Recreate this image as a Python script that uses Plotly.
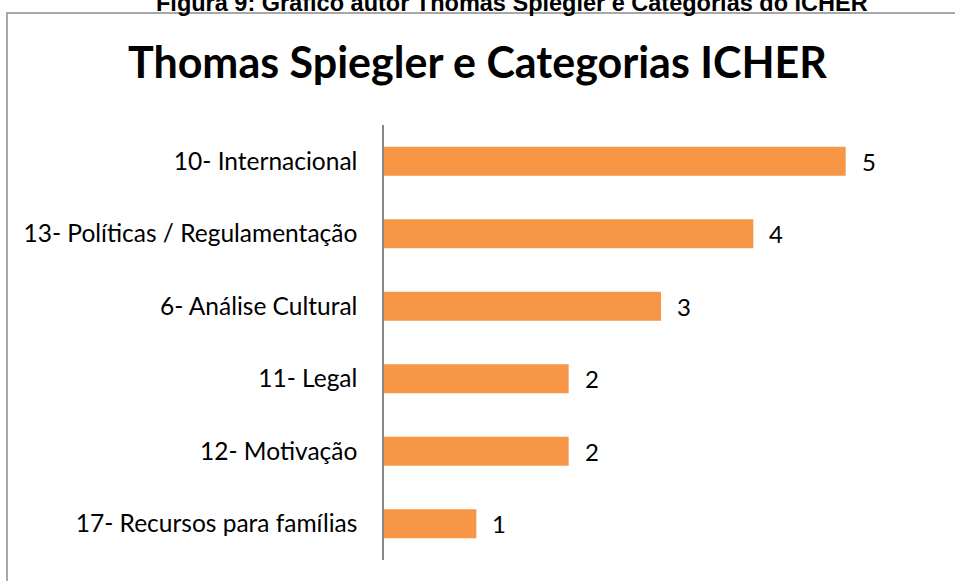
import plotly.graph_objects as go

categories = [
    "10- Internacional",
    "13- Políticas / Regulamentação",
    "6- Análise Cultural",
    "11- Legal",
    "12- Motivação",
    "17- Recursos para famílias",
]
values = [5, 4, 3, 2, 2, 1]

title_text = "Thomas Spiegler e Categorias ICHER"
caption_text = "Figura 9: Gráfico autor Thomas Spiegler e Categorias do ICHER"

BAR_COLOR = "#F79646"
FONT = "Lato"

fig = go.Figure()
fig.add_trace(go.Bar(
    x=values,
    y=categories,
    orientation="h",
    marker=dict(color=BAR_COLOR, line=dict(width=0)),
    hoverinfo="x+y",
))

for v, c in zip(values, categories):
    fig.add_annotation(
        x=v, y=c, xref="x", yref="y",
        text=str(v), showarrow=False,
        xanchor="left", yanchor="middle", xshift=14,
        font=dict(family=FONT, size=24, color="#000000"),
    )

# caption (partially cut off at the top of the page, as in the reference)
fig.add_annotation(
    x=0.231, y=1.246, xref="paper", yref="paper",
    text="<b>" + caption_text + "</b>", showarrow=False,
    xanchor="center", yanchor="bottom",
    font=dict(family="Liberation Sans, Arial", size=23.5, color="#000000"),
)

# chart border
fig.add_shape(
    type="rect", xref="paper", yref="paper",
    x0=-0.6805, x1=1.05, y0=-0.08, y1=1.2575,
    line=dict(color="#8C8C8C", width=1.5),
    fillcolor="rgba(0,0,0,0)", layer="below",
)

fig.update_layout(
    width=955, height=581,
    margin=dict(l=384, r=17, t=125, b=21, pad=0),
    paper_bgcolor="white", plot_bgcolor="white",
    showlegend=False,
    bargap=0.6,
    title=dict(
        text="<b>" + title_text + "</b>",
        x=0.5, xref="container", xanchor="center",
        y=1 - 63 / 581, yref="container", yanchor="middle",
        font=dict(family=FONT, size=43, color="#000000"),
    ),
    xaxis=dict(
        range=[0, 6], visible=False, showgrid=False, zeroline=False,
    ),
    yaxis=dict(
        autorange="reversed",
        showline=True, linecolor="#868686", linewidth=1.5,
        ticks="outside", ticklen=20, tickcolor="rgba(0,0,0,0)",
        showgrid=False, zeroline=False,
        tickfont=dict(family=FONT, size=24.5, color="#000000"),
    ),
)

fig.write_html(
    "out.html",
    config={"displayModeBar": False},
    post_script="document.body.style.margin='0';document.body.style.overflow='hidden';",
)
